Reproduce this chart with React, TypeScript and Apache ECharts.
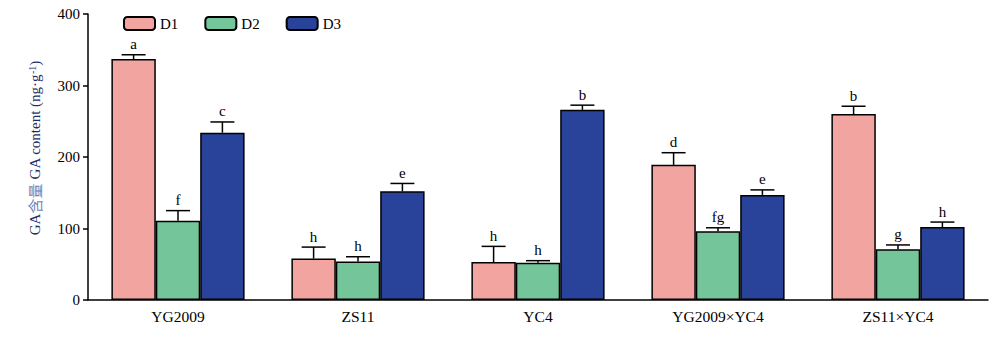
import React, { useEffect, useRef } from "react";
import * as echarts from "echarts";

const categories = ["YG2009", "ZS11", "YC4", "YG2009×YC4", "ZS11×YC4"];
const seriesNames = ["D1", "D2", "D3"];
const d1 = [337, 58, 53, 189, 260];
const d2 = [111, 54, 52, 96, 71];
const d3 = [234, 152, 266, 147, 102];
const d1Err = [6, 16, 22, 17, 11];
const d2Err = [14, 6.5, 3, 5, 6];
const d3Err = [15, 11, 6.5, 7, 7];
const d1Letters = ["a", "h", "h", "d", "b"];
const d2Letters = ["f", "h", "h", "fg", "g"];
const d3Letters = ["c", "e", "b", "e", "h"];
const yTicks = [0, 100, 200, 300, 400];

const colors = ["#F2A5A0", "#74C69A", "#284399"];
const GAP = 0.26;
const SERIF = "'Liberation Serif', 'Times New Roman', serif";

export default function App() {
  const ref = useRef<HTMLDivElement>(null);
  useEffect(() => {
    const chart = echarts.init(ref.current!, null, { renderer: "svg" });
    const values = [d1, d2, d3];
    const errs = [d1Err, d2Err, d3Err];
    const letters = [d1Letters, d2Letters, d3Letters];

    const barSeries = seriesNames.map((name, i) => ({
      name,
      type: "bar",
      data: values[i],
      barGap: "0%",
      barCategoryGap: GAP * 100 + "%",
      itemStyle: { color: colors[i], borderColor: "#000", borderWidth: 1.5 },
    }));

    const errSeries = seriesNames.map((name, i) => ({
      name: name + "_err",
      type: "custom",
      data: values[i].map((v, j) => [j, v, errs[i][j]]),
      z: 5,
      renderItem: (params: any, api: any) => {
        const cat = api.value(0);
        const v = api.value(1);
        const e = api.value(2);
        const letter = letters[i][params.dataIndex];
        const band = api.size([1, 0])[0];
        const bw = (band * (1 - GAP)) / 3;
        const base = api.coord([cat, v]);
        const top = api.coord([cat, v + e]);
        const x = base[0] + (i - 1) * bw;
        const cap = bw * 0.27;
        return {
          type: "group",
          children: [
            {
              type: "line",
              shape: { x1: x, y1: base[1], x2: x, y2: top[1] },
              style: { stroke: "#000000", lineWidth: 1.5 },
            },
            {
              type: "line",
              shape: { x1: x - cap, y1: top[1], x2: x + cap, y2: top[1] },
              style: { stroke: "#000000", lineWidth: 1.5 },
            },
            {
              type: "text",
              x: x,
              y: top[1] - 3,
              style: {
                text: letter,
                fill: "#000000",
                fontSize: 15,
                fontFamily: SERIF,
                align: "center",
                verticalAlign: "bottom",
              },
            },
          ],
        };
      },
    }));

    chart.setOption({
      animation: false,
      textStyle: { fontFamily: SERIF },
      legend: {
        data: seriesNames,
        left: 118,
        top: 11,
        itemWidth: 31,
        itemHeight: 13,
        itemGap: 26,
        textStyle: { fontSize: 15, color: "#000", fontFamily: SERIF },
      },
      grid: { left: 88, right: 12, top: 14, bottom: 38 },
      xAxis: {
        type: "category",
        data: categories,
        axisLine: { lineStyle: { color: "#000", width: 1.5 } },
        axisTick: { show: false },
        axisLabel: { color: "#000", fontSize: 15.5, margin: 8, fontFamily: SERIF },
      },
      yAxis: {
        type: "value",
        min: 0,
        max: 400,
        interval: 100,
        axisLine: { show: true, lineStyle: { color: "#000", width: 1.5 } },
        axisTick: { show: true, length: 5, lineStyle: { color: "#000", width: 1.5 } },
        axisLabel: {
          color: "#000",
          fontSize: 15,
          margin: 8,
          fontFamily: SERIF,
          formatter: (v: number) => (yTicks.includes(v) ? String(v) : ""),
        },
        splitLine: { show: false },
        name: "{a|GA}{b|含量}{a| GA content (ng·g}{s|-1}{a|)}",
        nameLocation: "middle",
        nameGap: 46,
        nameTextStyle: {
          padding: [0, 0, 0, 18],
          rich: {
            a: { fontSize: 15, color: "#1c2f66", fontFamily: SERIF },
            b: { fontSize: 15, color: "#6f84b8", fontFamily: "'Noto Sans CJK SC', sans-serif" },
            s: { fontSize: 10, color: "#1c2f66", verticalAlign: "top", fontFamily: SERIF },
          },
        },
      },
      series: [...barSeries, ...errSeries],
    });
    return () => chart.dispose();
  }, []);
  return (
    <div
      ref={ref}
      style={{ width: 1000, height: 338, position: "absolute", left: 0, top: 0 }}
    />
  );
}
